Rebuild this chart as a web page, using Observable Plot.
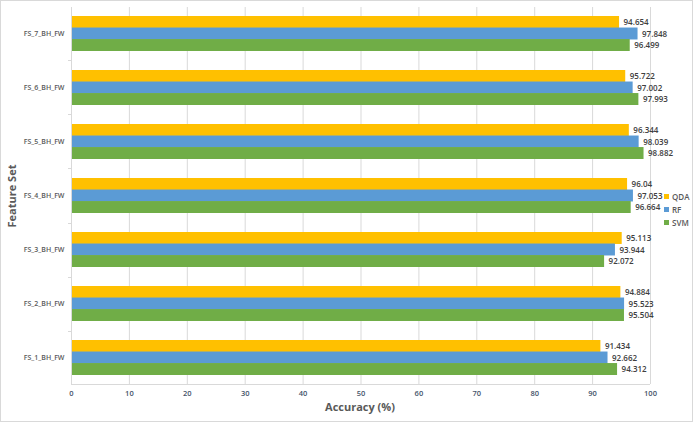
<!DOCTYPE html>
<html>
<head>
<meta charset="utf-8">
<script src="https://cdn.jsdelivr.net/npm/d3@7"></script>
<script src="https://cdn.jsdelivr.net/npm/@observablehq/plot@0.6"></script>
<style>
  body { margin: 0; background: #fff; }
  #wrap { position: relative; width: 693px; height: 422px; font-family: "Open Sans", sans-serif; }
  #wrap svg { display: block; outline: 1px solid #d9d9d9; outline-offset: -1px; }
  [aria-label^="x-axis"] text { fill: #44546a; font-weight: 600; }
  [aria-label^="y-axis"] text { fill: #595959; font-weight: 600; font-size: 7px; }
  .title { position: absolute; font-weight: 700; color: #595959; font-size: 11px; white-space: nowrap; }
  #legend { position: absolute; left: 664px; top: 190px; font-size: 8px; color: #595959; font-weight: 600; }
  #legend div { display: flex; align-items: center; height: 13px; }
  #legend span.sw { display: inline-block; width: 5px; height: 5px; margin-right: 3px; }
</style>
</head>
<body>
<div id="wrap"></div>
<script>
const featureSets = ["FS_1_BH_FW", "FS_2_BH_FW", "FS_3_BH_FW", "FS_4_BH_FW", "FS_5_BH_FW", "FS_6_BH_FW", "FS_7_BH_FW"];
const models = ["QDA", "RF", "SVM"];
const qda = [91.434, 94.884, 95.113, 96.04, 96.344, 95.722, 94.654];
const rf  = [92.662, 95.523, 93.944, 97.053, 98.039, 97.002, 97.848];
const svm = [94.312, 95.504, 92.072, 96.664, 98.882, 97.993, 96.499];
const colors = ["#ffc000", "#5b9bd5", "#70ad47"];
const xTicks = [0, 10, 20, 30, 40, 50, 60, 70, 80, 90, 100];

const series = [qda, rf, svm];
const data = [];
models.forEach((m, mi) => featureSets.forEach((s, si) => data.push({model: m, set: s, value: series[mi][si]})));

const W = 693, H = 422, mt = 7, mb = 38, ml = 71, mr = 43;
const pi = 0.36, po = 0.17;
const step = (H - mt - mb) / (featureSets.length - pi + 2 * po);
const third = step * (1 - pi) / 3;

const marks = [
  Plot.ruleX(xTicks, {stroke: "#d9d9d9", strokeWidth: 1}),
];
models.forEach((m, mi) => {
  const sub = data.filter(d => d.model === m);
  marks.push(Plot.barX(sub, {x: "value", y: "set", fill: colors[mi],
    insetTop: mi * third, insetBottom: (2 - mi) * third}));
  marks.push(Plot.text(sub, {x: "value", y: "set", text: d => String(d.value),
    textAnchor: "start", dx: 4, dy: (mi - 1) * third, fill: "#404040", fontWeight: 600, fontSize: 8}));
});
marks.push(Plot.ruleX([0], {stroke: "#d9d9d9"}));

const chart = Plot.plot({
  width: W, height: H,
  marginTop: mt, marginBottom: mb, marginLeft: ml, marginRight: mr,
  style: {fontFamily: "Open Sans, sans-serif", fontSize: "7.5px", background: "#fff"},
  x: {domain: [0, 100], ticks: xTicks, tickSize: 0, tickPadding: 6, label: null},
  y: {domain: featureSets.slice().reverse(), paddingInner: pi, paddingOuter: po, tickSize: 0, tickPadding: 7, label: null},
  marks
});
const wrap = document.getElementById("wrap");
wrap.appendChild(chart);

// bottom axis line and small y-axis group ticks (decoration)
const svg = d3.select(chart.tagName.toLowerCase() === "svg" ? chart : chart.querySelector("svg"));
svg.append("line").attr("x1", ml).attr("x2", W - mr).attr("y1", H - mb + 0.5).attr("y2", H - mb + 0.5)
  .attr("stroke", "#d9d9d9");
for (let i = 0; i <= featureSets.length; i++) {
  const yy = Math.round(mt + step * po - step * pi / 2 + i * step) + 0.5;
  if (i === 0 || i === featureSets.length) continue;
  svg.append("line").attr("x1", ml - 3).attr("x2", ml).attr("y1", yy).attr("y2", yy).attr("stroke", "#d9d9d9");
}

const xt = document.createElement("div");
xt.className = "title";
xt.textContent = "Accuracy (%)";
xt.style.left = "360px"; xt.style.top = "399px"; xt.style.transform = "translateX(-50%)";
wrap.appendChild(xt);

const yt = document.createElement("div");
yt.className = "title";
yt.textContent = "Feature Set";
yt.style.left = "11px"; yt.style.top = "196px"; yt.style.transform = "translate(-50%,-50%) rotate(-90deg)";
wrap.appendChild(yt);

const lg = document.createElement("div");
lg.id = "legend";
models.forEach((m, i) => {
  const row = document.createElement("div");
  row.innerHTML = `<span class="sw" style="background:${colors[i]}"></span>${m}`;
  lg.appendChild(row);
});
wrap.appendChild(lg);
</script>
</body>
</html>
